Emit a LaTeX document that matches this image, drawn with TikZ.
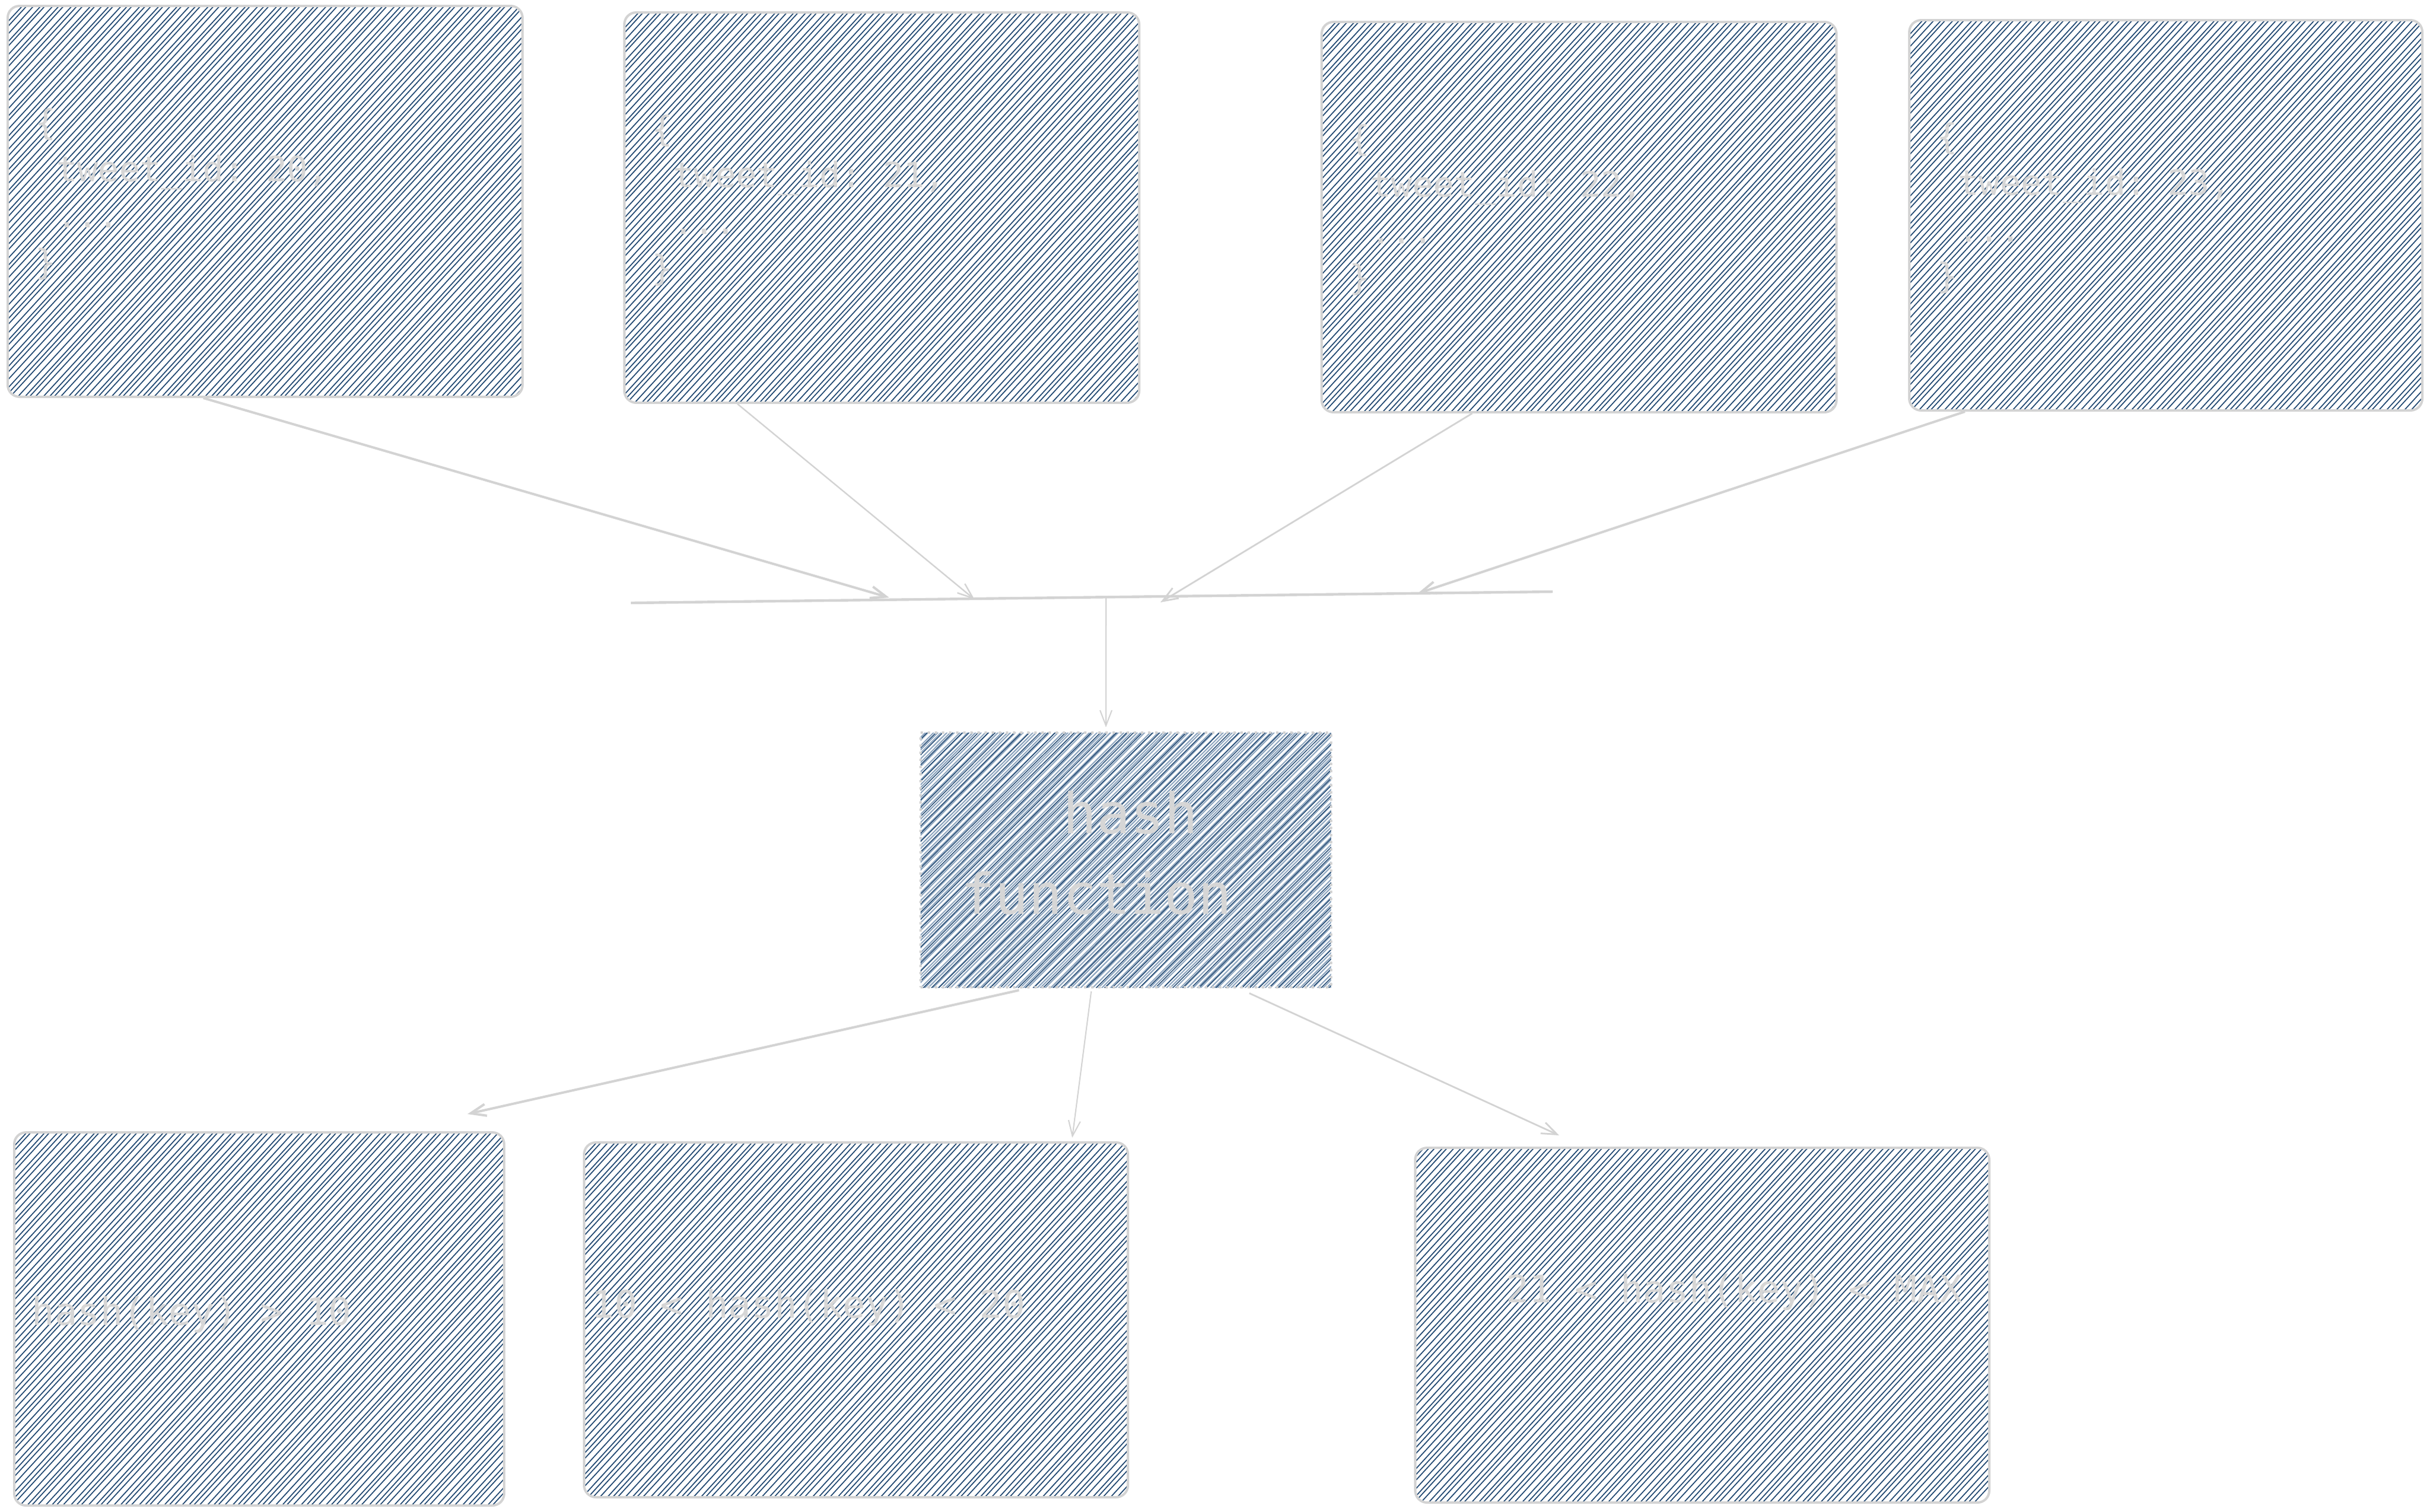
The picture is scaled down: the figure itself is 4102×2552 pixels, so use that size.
\documentclass[tikz,border=0pt]{standalone}
\usepackage{fontspec}
\setmonofont{DejaVu Sans Mono}
\usetikzlibrary{arrows.meta,calc}
\definecolor{lg}{RGB}{211,211,211}
\definecolor{txtg}{RGB}{214,214,214}
\definecolor{navy}{RGB}{30,70,112}
\definecolor{lblue}{RGB}{140,164,190}
\tikzset{
  sz/.style 2 args={minimum width={#1*0.25pt}, minimum height={#2*0.25pt}},
  hatchA/.style={path picture={
    \begin{scope}[shift={(path picture bounding box.center)},x=0.25pt,y=-0.25pt,solid]
      \foreach \k in {-80,...,80}{
        \draw[navy,line width=0.42pt] ({\k*10.5+2*sin(\k*97)-330},360) -- ({\k*10.5+2*sin(\k*131)+330},-360);
      }
    \end{scope}}},
  hatchB/.style={path picture={
    \begin{scope}[shift={(path picture bounding box.center)},x=0.25pt,y=-0.25pt,solid]
      \foreach \k in {-95,...,95}{
        \draw[lblue,line width=0.5pt] ({\k*7.3+1.5*sin(\k*97)-230},230) -- ({\k*7.3+1.5*sin(\k*131)+230},-230);
      }
      \foreach \k in {-48,...,48}{
        \draw[navy,line width=0.35pt] ({\k*14.6+3.6+2*sin(\k*71)-230},230) -- ({\k*14.6+3.6+2*sin(\k*113)+230},-230);
      }
    \end{scope}}},
  box/.style={draw=lg, line width=1pt, rounded corners=5pt, inner sep=0pt, hatchA},
  hbox/.style={draw=lg, line width=1pt, dotted, inner sep=0pt, hatchB},
  code/.style={font=\ttfamily\fontsize{14.7pt}{19.6pt}\selectfont, text=txtg, align=left, inner sep=0pt},
  btext/.style={font=\ttfamily\fontsize{16pt}{19pt}\selectfont, text=txtg, inner sep=0pt},
  htext/.style={font=\ttfamily\fontsize{23.7pt}{34pt}\selectfont, text=txtg, align=left, inner sep=0pt},
  conn/.style={draw=lg, -{Straight Barb[length=6.5pt,width=5pt]}},
}
\begin{document}
\begin{tikzpicture}[x=0.25pt,y=-0.25pt]
\useasboundingbox (0,0) rectangle (4102,2552);
\fill[white] (0,0) rectangle (4102,2552);

% top boxes
\node[box, sz={869}{660}] (b1) at (447.5,340) {};
\node[box, sz={869}{659}] (b2) at (1488.5,350.5) {};
\node[box, sz={869}{659}] (b3) at (2665.5,366.5) {};
\node[box, sz={866}{659}] (b4) at (3656,363.5) {};

\node[code, anchor=west] (t1) at ([xshift=12pt,yshift=3pt]b1.west) {\{\\\phantom{\{}tweet\_id: 20,\\\phantom{\{}...\\\}};
\node[code, anchor=west] (t2) at ([xshift=12pt,yshift=3pt]b2.west) {\{\\\phantom{\{}tweet\_id: 21,\\\phantom{\{}...\\\}};
\node[code, anchor=west] (t3) at ([xshift=12pt,yshift=3pt]b3.west) {\{\\\phantom{\{}tweet\_id: 22,\\\phantom{\{}...\\\}};
\node[code, anchor=west] (t4) at ([xshift=12pt,yshift=3pt]b4.west) {\{\\\phantom{\{}tweet\_id: 23,\\\phantom{\{}...\\\}};

% hash function
\node[hbox, sz={693}{430}] (h) at (1900.5,1452) {};
\node[htext, anchor=west] (ht) at ([xshift=17.5pt,yshift=3pt]h.west) {\phantom{fun}hash\\function};

% bottom boxes
\node[box, sz={827}{630}] (c1) at (437.5,2227) {};
\node[box, sz={918}{599}] (c2) at (1445,2228.5) {};
\node[box, sz={969}{599}] (c3) at (2873.5,2237.5) {};

\node[btext, anchor=west] (u1) at ([xshift=7.75pt,yshift=1.75pt]c1.west) {hash(key) > 10};
\node[btext, anchor=west] (u2) at ([xshift=3.5pt,yshift=5.1pt]c2.west) {10 < hash(key) < 20};
\node[btext, anchor=west] (u3) at ([xshift=38.75pt,yshift=13.9pt]c3.west) {21 < hash(key) < MAX};

% collector bar
\coordinate (barL) at (1065,1018);
\coordinate (barR) at (2621,999);
\coordinate (barM) at (1867,1008);
\coordinate (p1) at (1501,1009);
\coordinate (p2) at (1645,1012);
\coordinate (p3) at (1959,1017);
\coordinate (p4) at (2393,1002);
\draw[lg, line width=1.1pt] (barL) -- (barR);

\draw[conn, line width=1pt] ([xshift=-26.1pt]b1.south) -- (p1);
\draw[conn, line width=0.6pt] ([xshift=-60.9pt]b2.south) -- (p2);
\draw[conn, line width=0.7pt] ([xshift=-45.1pt]b3.south) -- (p3);
\draw[conn, line width=1pt] ([xshift=-84.75pt]b4.south) -- (p4);
\draw[conn, line width=0.5pt] (barM) -- ([xshift=-8.4pt,yshift=1.75pt]h.north);

\draw[conn, line width=1pt] ([xshift=-45.1pt,yshift=-0.75pt]h.south) -- ([xshift=87.9pt,yshift=7.25pt]c1.north);
\draw[conn, line width=0.5pt] ([xshift=-14.6pt,yshift=-1.25pt]h.south) -- ([xshift=91.25pt,yshift=1.5pt]c2.north);
\draw[conn, line width=0.7pt] ([xshift=52.1pt,yshift=-2pt]h.south) -- ([xshift=-60.4pt,yshift=4.75pt]c3.north);
\end{tikzpicture}
\end{document}
